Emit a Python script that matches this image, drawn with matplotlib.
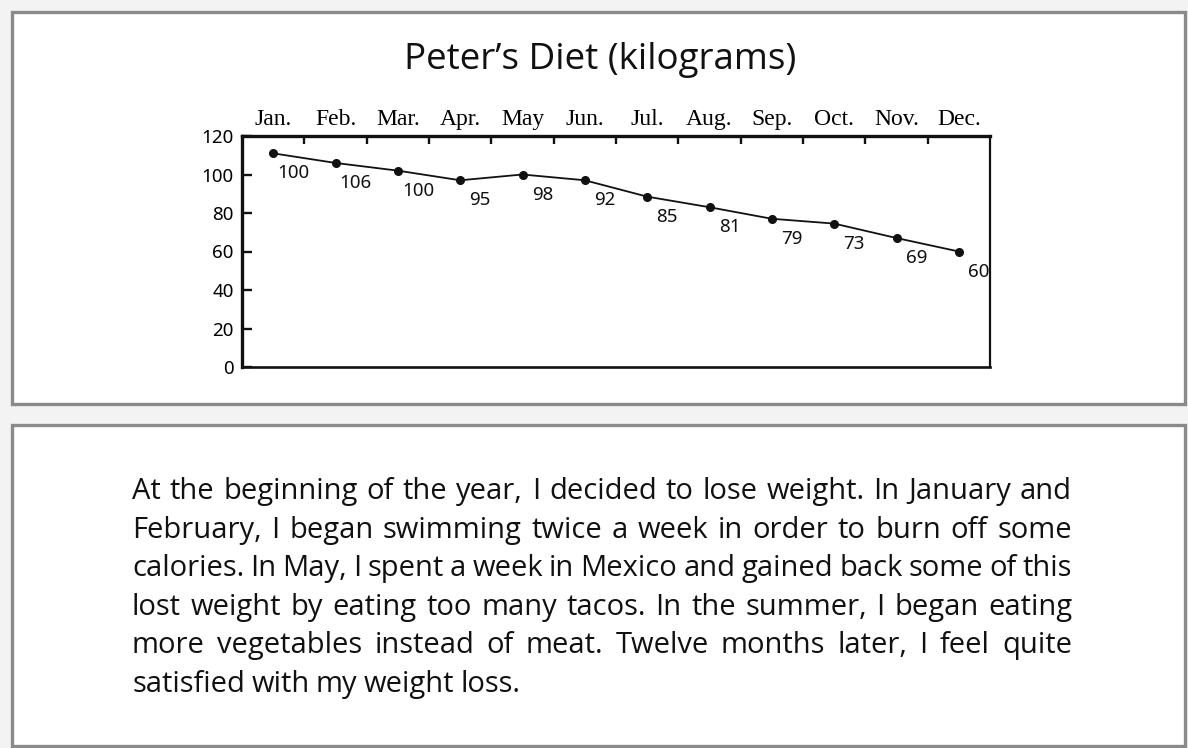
import matplotlib
matplotlib.use("Agg")
import matplotlib.pyplot as plt
from matplotlib.patches import Rectangle
from matplotlib.ticker import FixedLocator, NullFormatter, FixedFormatter

# ---- data ----
months = ["Jan.", "Feb.", "Mar.", "Apr.", "May", "Jun.", "Jul.", "Aug.", "Sep.", "Oct.", "Nov.", "Dec."]
plotted_kg = [111, 106, 102, 97, 100, 97, 88.5, 83, 77, 74.5, 67, 60]
label_kg = [100, 106, 100, 95, 98, 92, 85, 81, 79, 73, 69, 60]
y_ticks = [0, 20, 40, 60, 80, 100, 120]
title = "Peter\u2019s Diet (kilograms)"
paragraph_lines = [
    "At the beginning of the year, I decided to lose weight. In January and",
    "February, I began swimming twice a week in order to burn off some",
    "calories. In May, I spent a week in Mexico and gained back some of this",
    "lost weight by eating too many tacos. In the summer, I began eating",
    "more vegetables instead of meat. Twelve months later, I feel quite",
    "satisfied with my weight loss.",
]

W, H = 1188, 748
fig = plt.figure(figsize=(W / 100, H / 100), dpi=100)
fig.patch.set_facecolor("#f3f3f3")

def fx(px):
    return px / W

def fy(py):
    return 1 - py / H

# panels
border = "#8a8a8a"
for (x0, y0, x1, y1) in [(12, 12, 1185, 404), (12, 425, 1185, 746)]:
    fig.add_artist(Rectangle((fx(x0), fy(y1)), fx(x1) - fx(x0), fy(y0) - fy(y1),
                             transform=fig.transFigure, facecolor="white",
                             edgecolor=border, linewidth=2.4, zorder=0))

# title
fig.text(fx(600), fy(69), title, ha="center", va="baseline",
         fontsize=26.5, family="Open Sans", color="#111111")

# chart axes
ax = fig.add_axes([fx(242), fy(367), fx(990) - fx(242), fy(136) - fy(367)])
ax.set_facecolor("white")
x = [i + 0.5 for i in range(len(months))]
ax.plot(x, plotted_kg, color="#111111", linewidth=1.3, marker="o", markersize=5.5, zorder=3)
for xi, yi, lab in zip(x, plotted_kg, label_kg):
    ax.annotate(str(lab), (xi, yi), xytext=(14.5, -14.5), textcoords="offset points",
                ha="center", va="center", fontsize=13.5, family="Noto Sans", color="#111111")

ax.set_xlim(0, len(months))
ax.set_ylim(0, 120)
for side, lw in [("left", 2.4), ("top", 2.4), ("right", 1.6), ("bottom", 1.9)]:
    ax.spines[side].set_linewidth(lw)
    ax.spines[side].set_color("#111111")

ax.xaxis.tick_top()
ax.xaxis.set_major_locator(FixedLocator(list(range(1, len(months)))))
ax.xaxis.set_major_formatter(NullFormatter())
ax.xaxis.set_minor_locator(FixedLocator(x))
ax.xaxis.set_minor_formatter(FixedFormatter(months))
ax.tick_params(axis="x", which="major", direction="in", length=6, width=1.7,
               top=True, bottom=False, labeltop=False, labelbottom=False, color="#111111")
ax.tick_params(axis="x", which="minor", length=0, top=True, bottom=False,
               labeltop=True, labelbottom=False, pad=4, labelsize=17)
for t in ax.xaxis.get_minorticklabels():
    t.set_family("Liberation Serif")

ax.set_yticks(y_ticks)
ax.set_yticklabels([str(v) for v in y_ticks], family="Noto Sans", fontsize=13.5)
ax.tick_params(axis="y", direction="in", length=7.5, width=1.7, pad=6, color="#111111")

# paragraph, justified
renderer = fig.canvas.get_renderer()
left_px, right_px = 132, 1072
baseline0, line_step = 499, 38.6
fs = 21
for li, line in enumerate(paragraph_lines):
    words = line.split(" ")
    ypx = baseline0 + li * line_step
    texts = [fig.text(0, fy(ypx), w, ha="left", va="baseline", fontsize=fs,
                      family="Open Sans", color="#111111") for w in words]
    widths = [t.get_window_extent(renderer).width for t in texts]
    if li < len(paragraph_lines) - 1:
        gap = (right_px - left_px - sum(widths)) / (len(words) - 1)
    else:
        gap = fs * 0.3
    cur = left_px
    for t, wd in zip(texts, widths):
        t.set_x(fx(cur))
        cur += wd + gap

fig.savefig("out.png", dpi=100, facecolor=fig.get_facecolor())
